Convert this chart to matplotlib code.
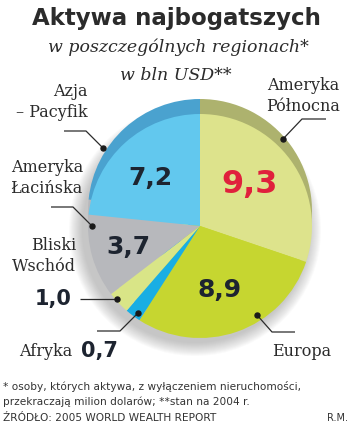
import matplotlib
matplotlib.use('Agg')
import matplotlib.pyplot as plt
from matplotlib.patches import Circle

# dane: aktywa najbogatszych w bln USD (stan na 2004 r.)
regiony = ['Ameryka\nPółnocna', 'Europa', 'Afryka', 'Bliski\nWschód', 'Ameryka\nŁacińska', 'Azja\n– Pacyfik']
wartosci = [9.3, 8.9, 0.7, 1.0, 3.7, 7.2]
kolory = ['#dde38c', '#c6d630', '#19aee4', '#d9e587', '#b7b8bc', '#62c8ee']
kolory_brzeg = ['#adb26e', '#c6d630', '#19aee4', '#d9e587', '#b7b8bc', '#4aa2cf']

W, H = 350, 424


def Y(y):
    # współrzędne jak na obrazku (od góry)
    return H - y


def fmt(v):
    return f'{v:.1f}'.replace('.', ',')


fig = plt.figure(figsize=(W / 100, H / 100), dpi=100)
ax = fig.add_axes([0, 0, 1, 1])

cx, cy, r = 200, Y(226), 112

# cień pod kołem
for i in range(14):
    ax.add_patch(Circle((cx - 5, cy - 4), r + 14 - i, color='#707070', alpha=0.03, lw=0, zorder=0))

# brzeg (efekt 3D u góry)
ax.pie(wartosci, colors=kolory_brzeg, startangle=90, counterclock=False,
       center=(cx, cy + 15), radius=r, wedgeprops=dict(linewidth=0))
# właściwe koło
ax.pie(wartosci, colors=kolory, startangle=90, counterclock=False,
       center=(cx, cy), radius=r, wedgeprops=dict(linewidth=0))

ax.set_xlim(0, W)
ax.set_ylim(0, H)
ax.set_aspect('equal')
ax.axis('off')

ciemny = '#2b2b2b'
ax.text(176, Y(18), 'Aktywa najbogatszych', ha='center', va='center',
        fontsize=16.5, fontweight='bold', color=ciemny)
ax.text(178, Y(47), 'w poszczególnych regionach*', ha='center', va='center',
        fontsize=12.5, family='DejaVu Serif', style='italic', color=ciemny)
ax.text(176, Y(76), 'w bln USD**', ha='center', va='center',
        fontsize=12.5, family='DejaVu Serif', style='italic', color=ciemny)

# wartości w wycinkach
big = dict(ha='center', va='center', fontweight='bold', color='#1d2430')
ax.text(250, Y(185), fmt(wartosci[0]), fontsize=23, **{**big, 'color': '#e0203c'})
ax.text(220, Y(290), fmt(wartosci[1]), fontsize=18, **big)
ax.text(150, Y(178), fmt(wartosci[5]), fontsize=18, **big)
ax.text(128, Y(247), fmt(wartosci[4]), fontsize=18, **big)

# etykiety regionów
lab = dict(family='DejaVu Serif', fontsize=11.5, color=ciemny, linespacing=1.25)
ax.text(303, Y(96), regiony[0], ha='center', va='center', **lab)
ax.text(302, Y(351), regiony[1], ha='center', va='center', **lab)
ax.text(88, Y(102), regiony[5], ha='right', va='center', multialignment='right', **lab)
ax.text(83, Y(178), regiony[4], ha='right', va='center', multialignment='right', **lab)
ax.text(76, Y(256), regiony[3], ha='right', va='center', multialignment='right', **lab)
ax.text(72, Y(351), regiony[2], ha='right', va='center', **lab)
ax.text(72, Y(299), fmt(wartosci[3]), ha='right', va='center', fontsize=15,
        fontweight='bold', color='#1d2430')
ax.text(81, Y(351), fmt(wartosci[2]), ha='left', va='center', fontsize=15,
        fontweight='bold', color='#1d2430')

# linie odniesienia
linie = [
    [(326, 119), (302, 119), (283, 139)],
    [(64, 131), (86, 131), (103, 148)],
    [(51, 207), (73, 207), (92, 226)],
    [(80, 299), (117, 299)],
    [(97, 331), (120, 331), (138, 313)],
    [(295, 332), (272, 332), (257, 315)],
]
for pts in linie:
    xs = [p[0] for p in pts]
    ys = [Y(p[1]) for p in pts]
    ax.plot(xs, ys, color=ciemny, lw=0.9, solid_capstyle='butt', zorder=5)
    ax.plot(xs[-1], ys[-1], 'o', color='#1a1a1a', ms=3.6, zorder=6)

# przypisy
foot = dict(fontsize=7.6, color='#333333', ha='left', va='center')
ax.text(3, Y(386), '* osoby, których aktywa, z wyłączeniem nieruchomości,', **foot)
ax.text(3, Y(402), 'przekraczają milion dolarów; **stan na 2004 r.', **foot)
ax.text(3, Y(418), 'ŹRÓDŁO: 2005 WORLD WEALTH REPORT', **foot)
ax.text(348, Y(418), 'R.M.', fontsize=7, color='#333333', ha='right', va='center')

fig.savefig('out.png', dpi=100)
